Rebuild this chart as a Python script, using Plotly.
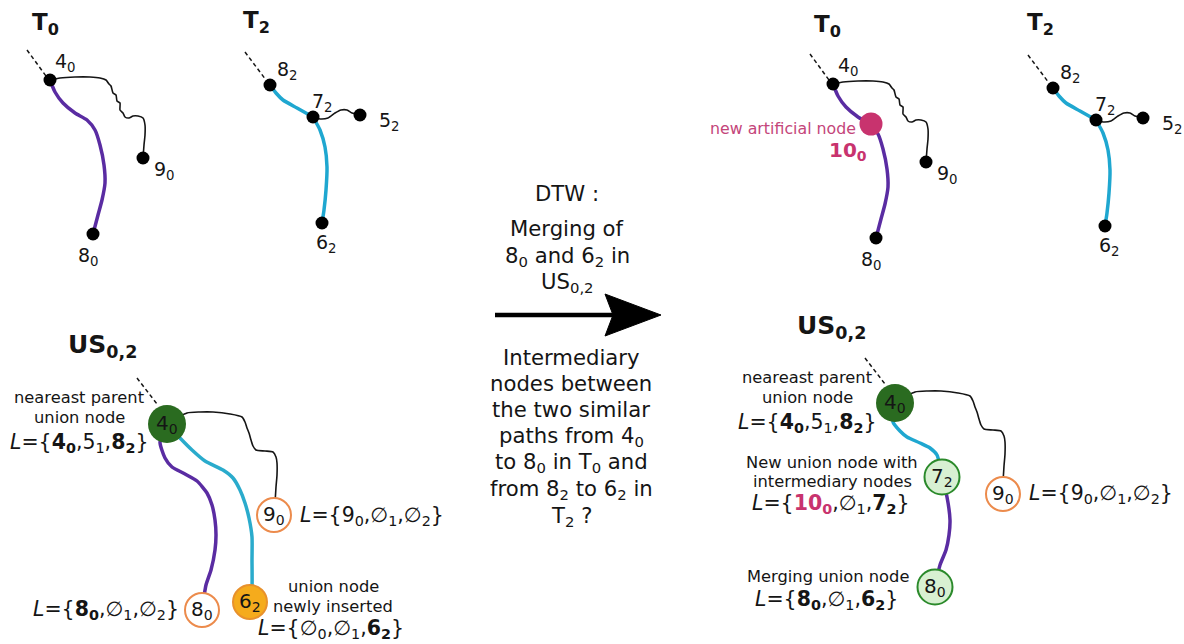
import plotly.graph_objects as go

FONT = "DejaVu Sans"
INK = "#151515"
PURPLE = "#5a2ca2"
CYAN = "#1fa7d0"
PINK = "#c8336e"
DARKGREEN = "#2a6b20"
LIGHTGREEN = "#d8f0d2"
GREENLINE = "#2b8a2b"
ORANGE = "#ec8b4c"
GOLD = "#f5ab1c"

# ---------------- data: tree T0 (left panel, page pixels) ----------------
t0_node_names = ["4<sub>0</sub>", "9<sub>0</sub>", "8<sub>0</sub>"]
t0_node_x = [50, 143, 93]
t0_node_y = [80, 158, 234]
t0_label_x = [65, 164, 88]
t0_label_y = [62, 170, 256]
t0_root_dash_x = [27, 46]
t0_root_dash_y = [50, 76]
t0_black_x = [50, 60, 75, 90, 100, 106, 109, 111, 113, 116, 117, 120, 120, 123, 125, 129, 133, 138, 143, 145, 145, 144, 143]
t0_black_y = [80, 78, 77, 77, 78, 80, 84, 86, 93, 95, 101, 103, 110, 113, 117, 118, 116, 116, 118, 125, 135, 145, 158]
t0_purple_x = [50, 55, 63, 75, 87, 95, 100, 104, 105, 102, 98, 93]
t0_purple_y = [80, 92, 103, 113, 120, 130, 145, 165, 183, 200, 215, 234]

# ---------------- data: tree T2 ----------------
t2_node_names = ["8<sub>2</sub>", "7<sub>2</sub>", "5<sub>2</sub>", "6<sub>2</sub>"]
t2_node_x = [270, 313, 360, 322]
t2_node_y = [85, 117, 115, 223]
t2_label_x = [287, 322, 389, 326]
t2_label_y = [70, 102, 121, 243]
t2_root_dash_x = [245, 266]
t2_root_dash_y = [52, 80]
t2_cyan_top_x = [270, 276, 283, 297, 313]
t2_cyan_top_y = [85, 93, 100, 108, 117]
t2_cyan_bottom_x = [313, 320, 325, 327, 326, 324, 322]
t2_cyan_bottom_y = [117, 130, 147, 167, 190, 210, 223]
t2_black_x = [313, 320, 328, 335, 341, 347, 352, 360]
t2_black_y = [117, 119, 118, 113, 110, 110, 113, 115]

# panel shifts for the copies on the right
t0_right_shift = (783, 4)
t2_right_shift = (783, 3)
artificial_node = (871, 124)

# ---------------- data: union tree US left ----------------
usl_root = (167, 424)
usl_root_dash_x = [137, 157]
usl_root_dash_y = [378, 404]
usl_black_x = [167, 187, 200, 213, 230, 242, 245, 247, 249, 251, 253, 256, 265, 273, 276, 277, 277, 276, 275]
usl_black_y = [424, 413, 412, 412, 414, 417, 422, 428, 433, 440, 446, 450, 451, 452, 457, 463, 475, 487, 503]
usl_purple_x = [167, 160, 165, 172, 185, 197, 207, 212, 215, 216, 215, 211, 206, 202]
usl_purple_y = [424, 442, 458, 467, 474, 481, 493, 505, 520, 535, 550, 570, 585, 610]
usl_cyan_x = [167, 180, 192, 205, 223, 233, 240, 245, 249, 252, 252, 252, 250]
usl_cyan_y = [424, 438, 450, 461, 470, 478, 490, 503, 518, 537, 560, 587, 602]
usl_leaf_names = ["9<sub>0</sub>", "8<sub>0</sub>"]
usl_leaf_x = [274, 202]
usl_leaf_y = [515, 610]
usl_new = (250, 602)

# ---------------- data: union tree US right ----------------
usr_shift = (728, -21)
usr_root = (895, 403)
usr_root_dash_x = [865, 885]
usr_root_dash_y = [358, 384]
usr_cyan_x = [895, 893, 900, 907, 920, 930, 937, 942]
usr_cyan_y = [403, 422, 431, 437, 443, 448, 455, 477]
usr_purple_x = [942, 947, 950, 949, 946, 940, 935]
usr_purple_y = [477, 497, 520, 535, 550, 565, 587]
usr_green_names = ["7<sub>2</sub>", "8<sub>0</sub>"]
usr_green_x = [942, 935]
usr_green_y = [477, 587]
usr_leaf = (1003, 494)

fig = go.Figure()


def path(xs, ys, color, width, dash=None, dx=0, dy=0, shape="spline"):
    fig.add_trace(go.Scatter(
        x=[v + dx for v in xs], y=[v + dy for v in ys], mode="lines",
        line=dict(color=color, width=width, dash=dash, shape=shape, smoothing=0.6),
        hoverinfo="skip", showlegend=False))


def dots(xs, ys, size, fill, outline=None, lw=0):
    fig.add_trace(go.Scatter(
        x=xs, y=ys, mode="markers",
        marker=dict(size=size, color=fill, line=dict(color=outline or fill, width=lw)),
        hoverinfo="skip", showlegend=False))


def text(x, y, s, size, color=INK, xanchor="center"):
    fig.add_annotation(x=x, y=y, text=s, showarrow=False, xanchor=xanchor, yanchor="middle",
                       font=dict(family=FONT, size=size, color=color))


DASH = "4px,3px"
NODE_FS = 19
SMALL_FS = 16.3
L_FS = 20.5
MID_FS = 21.2

# ---------- T0 left and right ----------
for dx, dy in [(0, 0), t0_right_shift]:
    path(t0_root_dash_x, t0_root_dash_y, INK, 1.5, DASH, dx, dy, "linear")
    path(t0_black_x, t0_black_y, INK, 1.6, None, dx, dy)
    path(t0_purple_x, t0_purple_y, PURPLE, 3.5, None, dx, dy)
    dots([v + dx for v in t0_node_x], [v + dy for v in t0_node_y], 13, "black")
    for name, lx, ly in zip(t0_node_names, t0_label_x, t0_label_y):
        text(lx + dx, ly + dy, name, NODE_FS)

# ---------- T2 left and right ----------
for dx, dy in [(0, 0), t2_right_shift]:
    path(t2_root_dash_x, t2_root_dash_y, INK, 1.5, DASH, dx, dy, "linear")
    path(t2_black_x, t2_black_y, INK, 1.6, None, dx, dy)
    path(t2_cyan_top_x, t2_cyan_top_y, CYAN, 3.5, None, dx, dy)
    path(t2_cyan_bottom_x, t2_cyan_bottom_y, CYAN, 3.5, None, dx, dy)
    dots([v + dx for v in t2_node_x], [v + dy for v in t2_node_y], 13, "black")
    for name, lx, ly in zip(t2_node_names, t2_label_x, t2_label_y):
        text(lx + dx, ly + dy, name, NODE_FS)

# artificial node
dots([artificial_node[0]], [artificial_node[1]], 23, PINK)
text(783, 128, "new artificial node", 15.8, "#c4457a")
text(848, 151, "<b>10<sub>0</sub></b>", 20, PINK)

# titles
text(45, 24, "<b>T<sub>0</sub></b>", 23)
text(256, 22, "<b>T<sub>2</sub></b>", 23)
text(827, 26, "<b>T<sub>0</sub></b>", 23)
text(1040, 24, "<b>T<sub>2</sub></b>", 23)
text(102, 346, "<b>US<sub>0,2</sub></b>", 25)
text(831, 327, "<b>US<sub>0,2</sub></b>", 25)

# ---------- US left ----------
path(usl_root_dash_x, usl_root_dash_y, INK, 1.5, DASH, shape="linear")
path(usl_black_x, usl_black_y, INK, 1.6)
path(usl_purple_x, usl_purple_y, PURPLE, 3.5)
path(usl_cyan_x, usl_cyan_y, "#2aabcc", 3.5)
dots([usl_root[0]], [usl_root[1]], 38, DARKGREEN)
dots(usl_leaf_x, usl_leaf_y, 34, "white", ORANGE, 2)
dots([usl_new[0]], [usl_new[1]], 34, GOLD, "#e8912c", 2)
text(usl_root[0], usl_root[1], "4<sub>0</sub>", 20)
for name, nx, ny in zip(usl_leaf_names, usl_leaf_x, usl_leaf_y):
    text(nx, ny, name, 20)
text(usl_new[0], usl_new[1], "6<sub>2</sub>", 20)

text(79, 397, "neareast parent", SMALL_FS)
text(79, 417, "union node", SMALL_FS)
text(79, 443, "<i>L</i>={<b>4<sub>0</sub></b>,5<sub>1</sub>,<b>8<sub>2</sub></b>}", L_FS)
text(106, 610, "<i>L</i>={<b>8<sub>0</sub></b>,∅<sub>1</sub>,∅<sub>2</sub>}", L_FS)
text(372, 516, "<i>L</i>={9<sub>0</sub>,∅<sub>1</sub>,∅<sub>2</sub>}", L_FS)
text(333, 586, "union node", SMALL_FS)
text(333, 606, "newly inserted", SMALL_FS)
text(331, 629, "<i>L</i>={∅<sub>0</sub>,∅<sub>1</sub>,<b>6<sub>2</sub></b>}", L_FS)

# ---------- US right ----------
path(usr_root_dash_x, usr_root_dash_y, INK, 1.5, DASH, shape="linear")
path(usl_black_x, usl_black_y, INK, 1.6, None, usr_shift[0], usr_shift[1])
path(usr_cyan_x, usr_cyan_y, CYAN, 3.5)
path(usr_purple_x, usr_purple_y, PURPLE, 3.5)
dots([usr_root[0]], [usr_root[1]], 38, DARKGREEN)
dots(usr_green_x, usr_green_y, 35, LIGHTGREEN, GREENLINE, 2)
dots([usr_leaf[0]], [usr_leaf[1]], 34, "white", ORANGE, 2)
text(usr_root[0], usr_root[1], "4<sub>0</sub>", 20)
for name, nx, ny in zip(usr_green_names, usr_green_x, usr_green_y):
    text(nx, ny, name, 20)
text(usr_leaf[0], usr_leaf[1], "9<sub>0</sub>", 20)

text(807, 377, "neareast parent", SMALL_FS)
text(807, 397, "union node", SMALL_FS)
text(807, 423, "<i>L</i>={<b>4<sub>0</sub></b>,5<sub>1</sub>,<b>8<sub>2</sub></b>}", L_FS)
text(832, 462, "New union node with", SMALL_FS)
text(832, 481, "intermediary nodes", SMALL_FS)
text(831, 504, "<i>L</i>={<b><span style='color:" + PINK + "'>10<sub>0</sub></span></b>,∅<sub>1</sub>,<b>7<sub>2</sub></b>}", L_FS)
text(828, 576, "Merging union node", SMALL_FS)
text(826, 600, "<i>L</i>={<b>8<sub>0</sub></b>,∅<sub>1</sub>,<b>6<sub>2</sub></b>}", L_FS)
text(1101, 494, "<i>L</i>={9<sub>0</sub>,∅<sub>1</sub>,∅<sub>2</sub>}", L_FS)

# ---------- middle: arrow and text ----------
arrow_shaft_x = [495, 614]
arrow_shaft_y = [315, 315]
arrow_head_x = [605, 661, 605, 613, 605]
arrow_head_y = [294, 315, 336, 315, 294]
path(arrow_shaft_x, arrow_shaft_y, "black", 4.5, shape="linear")
fig.add_trace(go.Scatter(x=arrow_head_x, y=arrow_head_y, mode="lines", fill="toself",
                         fillcolor="black", line=dict(color="black", width=1),
                         hoverinfo="skip", showlegend=False))

upper_lines = ["DTW :", "Merging of", "8<sub>0</sub> and 6<sub>2</sub> in", "US<sub>0,2</sub>"]
upper_y = [193, 228, 256, 282]
for s, yy in zip(upper_lines, upper_y):
    text(567, yy, s, MID_FS)

lower_lines = ["Intermediary", "nodes between", "the two similar", "paths from 4<sub>0</sub>",
               "to 8<sub>0</sub> in T<sub>0</sub> and", "from 8<sub>2</sub> to 6<sub>2</sub> in",
               "T<sub>2</sub> ?"]
lower_y = [357, 383, 409.5, 436, 462.5, 489.5, 516]
for s, yy in zip(lower_lines, lower_y):
    text(571, yy, s, MID_FS)

fig.update_layout(
    width=1184, height=644, margin=dict(l=0, r=0, t=0, b=0),
    paper_bgcolor="white", plot_bgcolor="white", showlegend=False,
    xaxis=dict(range=[0, 1184], visible=False, fixedrange=True),
    yaxis=dict(range=[644, 0], visible=False, fixedrange=True),
)
fig.write_html("out.html", config={"displayModeBar": False},
               post_script="document.body.style.margin='0';")
